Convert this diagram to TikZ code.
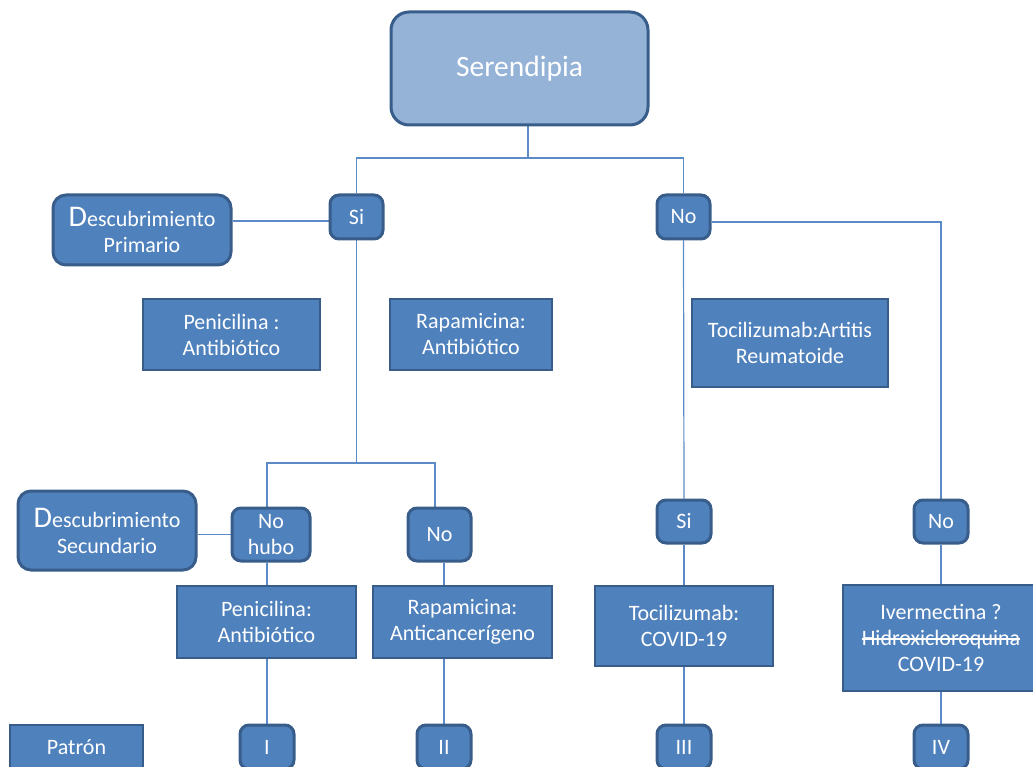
\documentclass[tikz,border=0pt]{standalone}
\usepackage{fontspec}
\setmainfont{Carlito}
\usetikzlibrary{backgrounds}
\definecolor{boxfill}{HTML}{4F81BD}
\definecolor{boxedge}{HTML}{385D8A}
\definecolor{topfill}{HTML}{95B3D7}
\definecolor{linkcol}{HTML}{5B8AC6}
\newcommand{\bigD}{{\fontsize{30}{30}\selectfont D}}
\newcommand{\strk}[1]{{\setbox0\hbox{#1}\rlap{\rule[0.26em]{\wd0}{0.07em}}\box0}}
\tikzset{
  x=1pt, y=-1pt,
  base/.style={draw=boxedge, fill=boxfill, text=white, align=center, inner sep=0pt,
    font=\fontsize{22}{26}\selectfont},
  rbox/.style={base, rounded corners=9pt, line width=3pt},
  sbox/.style={base, line width=2.2pt},
  link/.style={draw=linkcol, line width=1.2pt}
}
\begin{document}
\begin{tikzpicture}
\useasboundingbox (0,0) rectangle (1033,767);
% top
\node[rbox, fill=topfill, rounded corners=18pt, minimum width=257, minimum height=113,
  font=\fontsize{29.5}{32}\selectfont] (ser) at (519.5,68.5) {\raisebox{-3pt}{Serendipia}};
\node[rbox, minimum width=53, minimum height=44] (si1) at (356.5,217) {Si};
\node[rbox, minimum width=53, minimum height=44] (no1) at (683.5,217) {No};
\node[rbox, rounded corners=13pt, minimum width=178, minimum height=70] (dp) at (142,230) {\bigD escubrimiento\\Primario};
\node[sbox, minimum width=177, minimum height=71] (pen1) at (231.5,334.5) {Penicilina :\\Antibiótico};
\node[sbox, minimum width=162, minimum height=71] (rap1) at (471,334.5) {Rapamicina:\\Antibiótico};
\node[sbox, minimum width=196, minimum height=88] (toc1) at (790,343) {Tocilizumab:Artitis\\Reumatoide};
% second level
\node[rbox, rounded corners=13pt, minimum width=178, minimum height=79] (ds) at (107,530.5) {\bigD escubrimiento\\Secundario};
\node[rbox, minimum width=78, minimum height=53] (nohubo) at (271,534.5) {No\\hubo};
\node[rbox, minimum width=63, minimum height=53] (no2) at (439.5,534.5) {No};
\node[rbox, minimum width=54, minimum height=43] (si2) at (684,521.5) {Si};
\node[rbox, minimum width=54, minimum height=43] (no3) at (941,521.5) {No};
\node[sbox, minimum width=179, minimum height=72] (pen2) at (266.5,622) {Penicilina:\\Antibiótico};
\node[sbox, minimum width=179, minimum height=72] (rapc) at (462.5,622) {Rapamicina:\\Anticancerígeno};
\node[sbox, minimum width=178, minimum height=80] (toc2) at (684,626) {Tocilizumab:\\COVID-19};
\node[sbox, minimum width=196, minimum height=106] (iver) at (941,638) {Ivermectina ?\\\strk{Hidroxicloroquina}\\COVID-19};
% bottom row
\node[sbox, minimum width=133, minimum height=44] (patron) at (76.5,747) {Patrón};
\node[rbox, minimum width=54, minimum height=44] (r1) at (267,747) {I};
\node[rbox, minimum width=54, minimum height=44] (r2) at (444,747) {II};
\node[rbox, minimum width=54, minimum height=44] (r3) at (684,747) {III};
\node[rbox, minimum width=54, minimum height=44] (r4) at (941,747) {IV};
% connectors
\begin{pgfonlayer}{background}
\coordinate (j1) at (528,158);
\coordinate (j2) at (356.5,463);
\draw[link] ([xshift=8.5pt]ser.south) -- (j1);
\draw[link] (si1.north) |- (j1) -| (no1.north);
\draw[link] ([yshift=-4pt]si1.west) -- ([yshift=-4pt]si1.west -| dp.east);
\draw[link] (si1.south) -- (j2);
\draw[link] ([xshift=-4pt]nohubo.north) |- (j2) -| ([xshift=-4.5pt]no2.north);
\draw[link] (nohubo.west) -- (nohubo.west -| ds.east);
\draw[link] ([xshift=-4pt]nohubo.south) -- ([xshift=-4pt]nohubo.south |- pen2.north);
\draw[link] (r1.north |- pen2.south) -- (r1.north);
\draw[link] (r2.north |- no2.south) -- (r2.north |- rapc.north);
\draw[link] (r2.north |- rapc.south) -- (r2.north);
\draw[link] (no1.south) -- (si2.north);
\draw[link] ([yshift=-5pt]no1.east) -| (no3.north);
\draw[link] (si2.south) -- (toc2.north);
\draw[link] (toc2.south) -- (r3.north);
\draw[link] (no3.south) -- (iver.north);
\draw[link] (iver.south) -- (r4.north);
\end{pgfonlayer}
\end{tikzpicture}
\end{document}
